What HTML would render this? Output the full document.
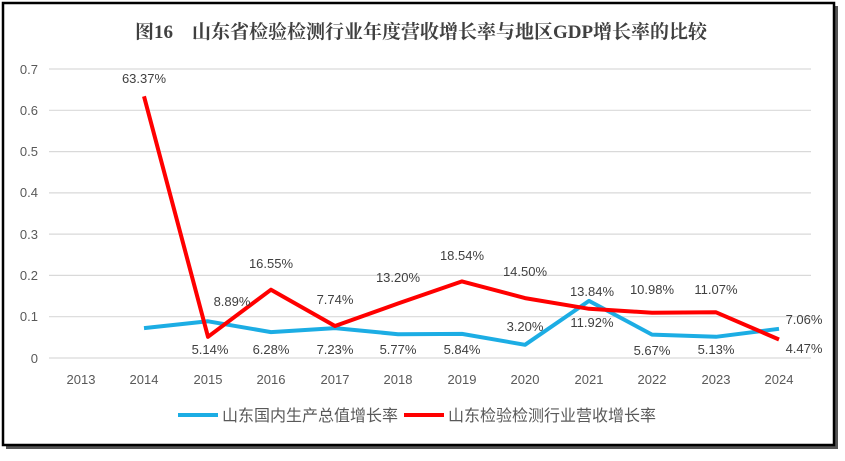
<!DOCTYPE html><html><head><meta charset="utf-8"><style>
body{margin:0;background:#fff;width:845px;height:456px;overflow:hidden}
</style></head><body>
<svg width="845" height="456" xmlns="http://www.w3.org/2000/svg" font-family="Liberation Sans, Noto Sans CJK SC, sans-serif">
<rect x="6" y="6" width="832" height="443" fill="#555"/>
<rect x="3" y="3" width="831" height="442" fill="#fff" stroke="#000" stroke-width="2.5"/>
<text x="421" y="38" text-anchor="middle" font-family="Liberation Serif, Noto Serif CJK SC, serif" font-weight="bold" font-size="19" fill="#404040">图16　山东省检验检测行业年度营收增长率与地区GDP增长率的比较</text>
<g stroke="#d9d9d9" stroke-width="1.2">
<line x1="49" x2="811" y1="69" y2="69"/><line x1="49" x2="811" y1="110.3" y2="110.3"/>
<line x1="49" x2="811" y1="151.6" y2="151.6"/><line x1="49" x2="811" y1="192.9" y2="192.9"/>
<line x1="49" x2="811" y1="234.1" y2="234.1"/><line x1="49" x2="811" y1="275.4" y2="275.4"/>
<line x1="49" x2="811" y1="316.7" y2="316.7"/><line x1="49" x2="811" y1="358" y2="358"/>
</g>
<g font-size="13" fill="#595959" text-anchor="end">
<text x="38" y="74">0.7</text><text x="38" y="115">0.6</text><text x="38" y="156">0.5</text><text x="38" y="197">0.4</text><text x="38" y="239">0.3</text><text x="38" y="280">0.2</text><text x="38" y="321">0.1</text><text x="38" y="363">0</text>
</g>
<g font-size="13" fill="#595959" text-anchor="middle">
<text x="81" y="384">2013</text><text x="144" y="384">2014</text><text x="208" y="384">2015</text><text x="271" y="384">2016</text><text x="335" y="384">2017</text><text x="398" y="384">2018</text><text x="462" y="384">2019</text><text x="525" y="384">2020</text><text x="589" y="384">2021</text><text x="652" y="384">2022</text><text x="716" y="384">2023</text><text x="779" y="384">2024</text>
</g>
<polyline fill="none" stroke="#1cade4" stroke-width="4" stroke-linejoin="round" points="144,328.1 208,321.3 271,332.1 335,328.1 398,334.2 462,333.9 525,344.8 589,300.9 652,334.6 716,336.8 779,328.8"/>
<polyline fill="none" stroke="#ff0000" stroke-width="4" stroke-linejoin="round" points="144,96.3 208,336.8 271,289.7 335,326 398,303.5 462,281.4 525,298.1 589,308.8 652,312.7 716,312.3 779,339.5"/>
<g font-size="13" fill="#404040" text-anchor="middle">
<text x="144" y="83">63.37%</text>
<text x="232" y="306">8.89%</text><text x="210" y="354">5.14%</text>
<text x="271" y="268">16.55%</text><text x="271" y="354">6.28%</text>
<text x="335" y="304">7.74%</text><text x="335" y="354">7.23%</text>
<text x="398" y="282">13.20%</text><text x="398" y="354">5.77%</text>
<text x="462" y="260">18.54%</text><text x="462" y="354">5.84%</text>
<text x="525" y="276">14.50%</text><text x="525" y="331">3.20%</text>
<text x="592" y="296">13.84%</text><text x="592" y="327">11.92%</text>
<text x="652" y="294">10.98%</text><text x="652" y="355">5.67%</text>
<text x="716" y="294">11.07%</text><text x="716" y="354">5.13%</text>
<text x="804" y="324">7.06%</text><text x="804" y="353">4.47%</text>
</g>
<line x1="178" x2="218" y1="415" y2="415" stroke="#1cade4" stroke-width="4"/>
<text x="222" y="421" font-size="16" fill="#595959">山东国内生产总值增长率</text>
<line x1="404" x2="444" y1="415" y2="415" stroke="#ff0000" stroke-width="4"/>
<text x="448" y="421" font-size="16" fill="#595959">山东检验检测行业营收增长率</text>
</svg>
</body></html>
